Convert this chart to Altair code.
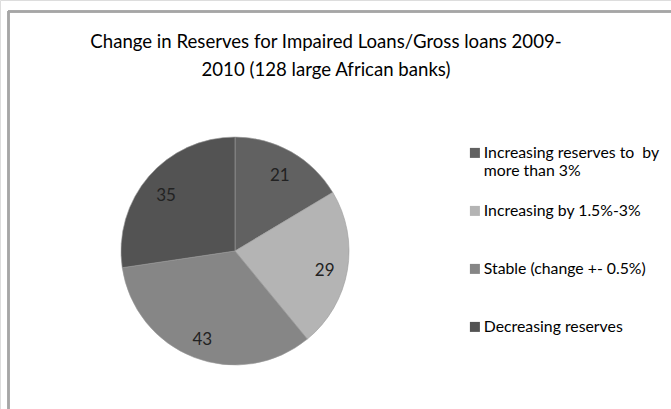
import altair as alt
import pandas as pd

categories = [
    "Increasing reserves to \u00a0by\nmore than 3%",
    "Increasing by 1.5%-3%",
    "Stable (change +- 0.5%)",
    "Decreasing reserves",
]
counts = [21, 29, 43, 35]
colors = ["#616161", "#b4b4b4", "#868686", "#535353"]
title_lines = [
    "Change in Reserves for Impaired Loans/Gross loans 2009-",
    "2010 (128 large African banks)",
]

FONT = "Lato"

df = pd.DataFrame({"category": categories, "count": counts, "order": list(range(len(counts)))})

cx, cy = 235, 251

base = alt.Chart(df).encode(
    theta=alt.Theta("count:Q", stack=True),
    order=alt.Order("order:Q"),
    x=alt.value(cx),
    y=alt.value(cy),
)

pie = base.mark_arc(outerRadius=114, stroke="#9a9a9a", strokeWidth=0.6).encode(
    color=alt.Color(
        "category:N",
        scale=alt.Scale(domain=categories, range=colors),
        sort=categories,
        legend=alt.Legend(
            title=None,
            orient="none",
            legendX=467,
            legendY=145,
            symbolType="square",
            symbolSize=100,
            symbolStrokeWidth=0,
            labelFont=FONT,
            labelFontSize=15.8,
            labelColor="#000000",
            labelLimit=300,
            labelExpr="indexof(datum.label, '\\n') >= 0 ? split(datum.label, '\\n') : [datum.label, ' ']",
            labelOffset=1,
            rowPadding=23,
            padding=0,
        ),
    )
)

labels = base.mark_text(radius=91, dy=4, font=FONT, fontSize=17, color="#222222").encode(
    text=alt.Text("count:Q")
)

frame_top = alt.Chart(df).mark_rule(color="#a6a6a6", strokeWidth=2).encode(
    x=alt.value(8), x2=alt.value(671), y=alt.value(11.5)
)
frame_left = alt.Chart(df).mark_rule(color="#a6a6a6", strokeWidth=2).encode(
    x=alt.value(8.5), y=alt.value(11), y2=alt.value(409)
)

chart = (
    alt.layer(frame_top, frame_left, pie, labels)
    .properties(
        width=671,
        height=409,
        autosize=alt.AutoSizeParams(type="none"),
        padding=0,
        title=alt.TitleParams(
            text=title_lines,
            font=FONT,
            fontSize=18.6,
            fontWeight="normal",
            color="#000000",
            anchor="start",
            align="center",
            dx=326,
            dy=84,
            lineHeight=28,
        ),
    )
    .configure_view(stroke=None)
    .configure(background="#ffffff")
)

chart.save("out.html", embed_options={"renderer": "svg", "actions": False})
